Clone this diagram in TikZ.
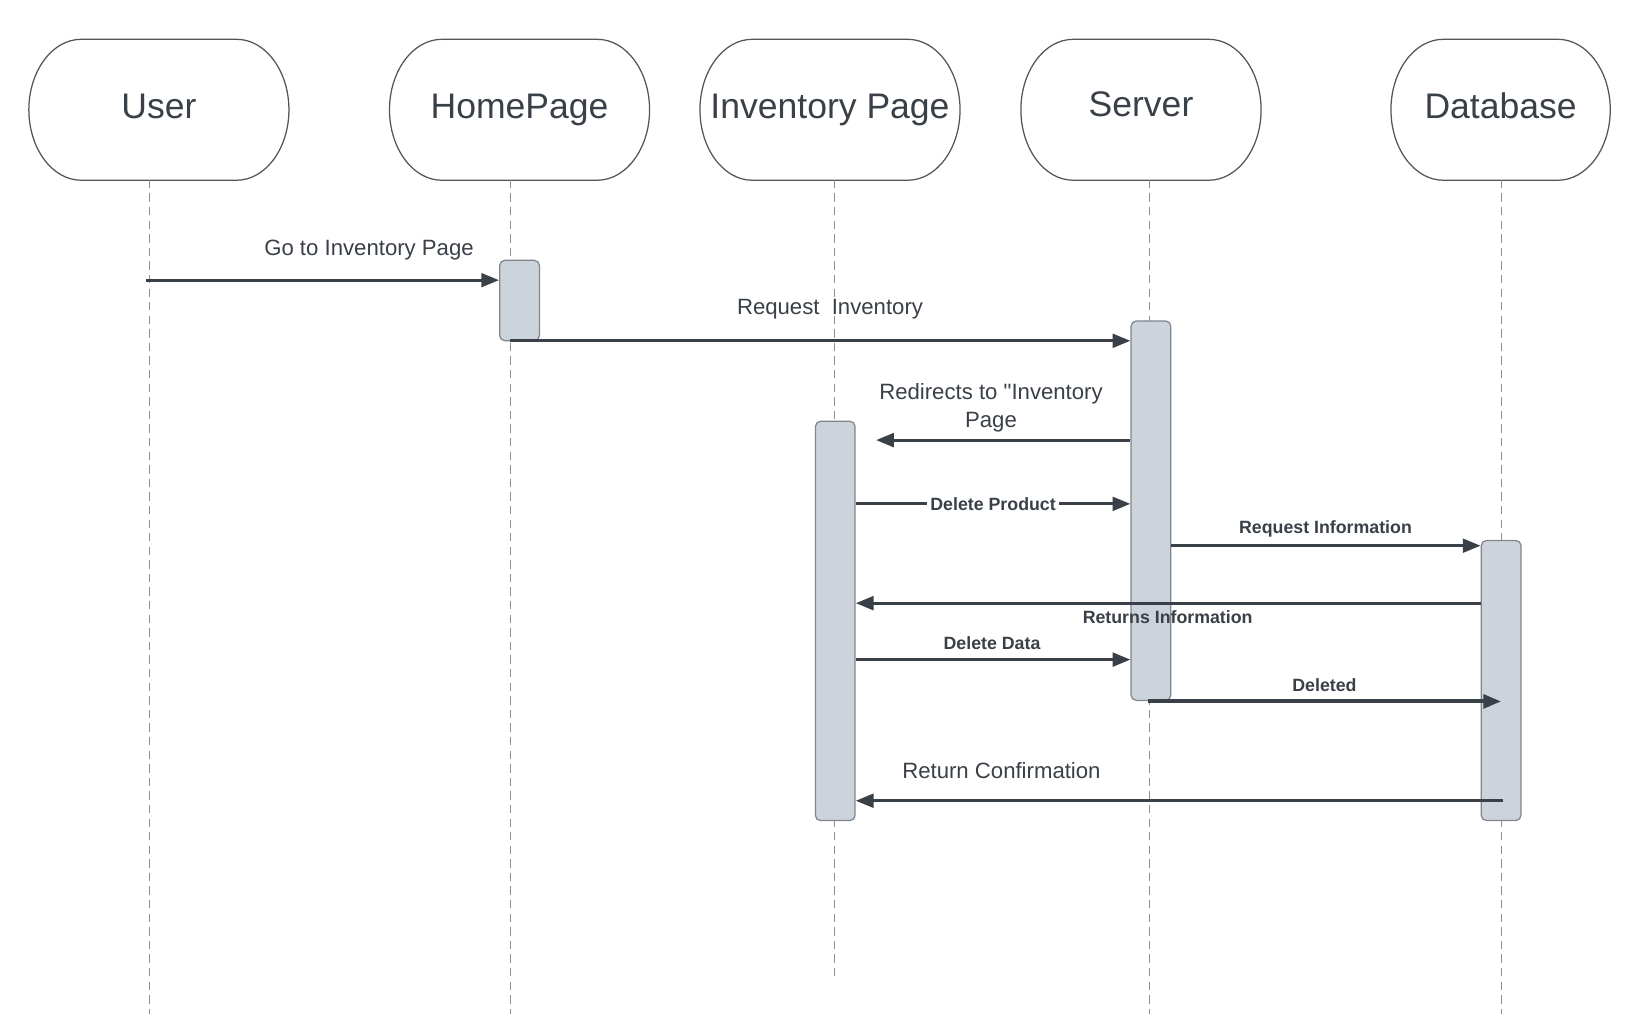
\documentclass[tikz,border=0pt]{standalone}
\usepackage{fontspec}
\setmainfont{Liberation Sans}[Ligatures=TeXOff]
\usetikzlibrary{arrows.meta,calc}

\definecolor{inkgray}{HTML}{3A4047}
\definecolor{barfill}{HTML}{CDD3DA}
\definecolor{barline}{HTML}{7F868E}
\definecolor{lifegray}{HTML}{8E8E8E}
\definecolor{framegray}{HTML}{555555}

\tikzset{
	actor/.style={minimum height=67pt, inner sep=0pt, text=inkgray, text height=12pt, text depth=4pt, font=\fontsize{17}{20}\selectfont},
	frame/.style={draw=framegray, line width=0.6pt},
	life/.style={draw=lifegray, line width=0.45pt, dash pattern=on 4pt off 2.5pt},
	bar/.style={draw=barline, fill=barfill, line width=0.6pt, rounded corners=2.5pt, minimum width=19pt, inner sep=0pt},
	msg/.style={draw=inkgray, line width=1.5pt, -{Triangle[length=8.5pt,width=6.5pt]}},
	lbl/.style={text=inkgray, align=center, inner sep=1pt, font=\fontsize{10.6}{13}\selectfont},
	blbl/.style={text=inkgray, inner sep=1pt, font=\bfseries\fontsize{8.5}{10}\selectfont}
}

\begin{document}
\begin{tikzpicture}[x=0.5pt,y=-0.5pt]
		\useasboundingbox (0,0) rectangle (1566,970);

	% Cabeceras
		\node[actor, minimum width=124pt] (user) at (152,105) {User};
		\node[actor, minimum width=124pt] (home) at (497,105) {HomePage};
		\node[actor, minimum width=124pt] (inv) at (794,105) {Inventory Page};
		\node[actor, minimum width=114.5pt, text depth=5.5pt] (server) at (1091.5,105) {Server};
		\node[actor, minimum width=104.5pt] (db) at (1435.5,105) {Database};
		\foreach \n in {user,home,inv,server,db}
			\draw[frame] ($(\n.north west)+(50,0)$) -- ($(\n.north east)+(-50,0)$)
				.. controls +(27.6,0) and +(0,-37) .. (\n.east)
				.. controls +(0,37) and +(27.6,0) .. ($(\n.south east)+(-50,0)$)
				-- ($(\n.south west)+(50,0)$)
				.. controls +(-27.6,0) and +(0,37) .. (\n.west)
				.. controls +(0,-37) and +(-27.6,0) .. ($(\n.north west)+(50,0)$) -- cycle;

	% Lineas de vida
		\foreach \x/\y in {143/970,488/970,798/938,1100/970,1436/970}
			\draw[life] (\x,172) -- (\x,\y);

	% Barras de activacion
		\node[bar, minimum height=38.5pt] (bHome) at (497,287.5) {};
		\node[bar, minimum height=181.5pt] (bServer) at (1101,488.5) {};
		\node[bar, minimum height=191pt] (bInv) at (799,594) {};
		\node[bar, minimum height=134pt] (bDB) at (1436,651) {};

	% Mensajes
		\coordinate (m1) at (140,268);
		\draw[msg] (m1) -- (m1 -| bHome.west);
		\node[lbl] (t1) at (353,239) {Go to Inventory Page};

		\coordinate (m2) at (488,326);
		\draw[msg] (m2) -- (m2 -| bServer.west);
		\node[lbl] (t2) at (794,296) {Request\ \ Inventory};

		\coordinate (m3) at (838,421);
		\draw[msg] (m3 -| bServer.west) -- (m3);
		\node[lbl] (t3) at (948,390) {Redirects to "Inventory\\Page};

		\coordinate (m4) at (0,482);
		\draw[msg] (bInv.east |- m4) -- (bServer.west |- m4) node[blbl, fill=white, inner xsep=1.5pt, midway] (t4) {Delete Product};

		\coordinate (m5) at (0,522);
		\draw[msg] (bServer.east |- m5) -- (bDB.west |- m5);
		\node[blbl] (t5) at (1268,506) {Request Information};

		\coordinate (m6) at (0,577);
		\draw[msg] (bDB.west |- m6) -- (bInv.east |- m6);
		\node[blbl] (t6) at (1117,590) {Returns Information};

		\coordinate (m7) at (0,631);
		\draw[msg] (bInv.east |- m7) -- (bServer.west |- m7);
		\node[blbl] (t7) at (949,615) {Delete Data};

		\coordinate (m8) at (1098,671);
		\draw[msg, line width=1.9pt] (m8) -- (m8 -| bDB.center);
		\node[blbl] (t8) at (1267,655) {Deleted};

		\coordinate (m9) at (1438,766);
		\draw[msg] (m9) -- (m9 -| bInv.east);
		\node[lbl] (t9) at (958,737) {Return Confirmation};
\end{tikzpicture}
\end{document}
